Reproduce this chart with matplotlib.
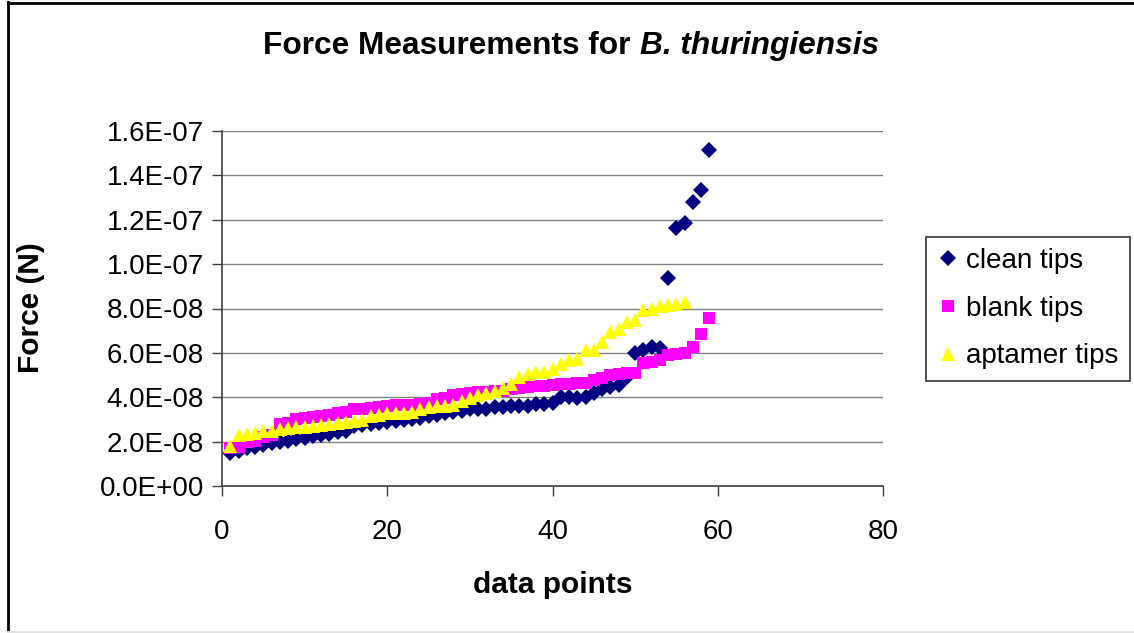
import matplotlib
matplotlib.use("Agg")
import matplotlib.pyplot as plt
from matplotlib.lines import Line2D
from matplotlib.ticker import FuncFormatter

plt.rcParams['font.family'] = ['Liberation Sans', 'DejaVu Sans']

# ---- data (Force in units of 1e-8 N) ----
clean_tips = [1.50, 1.60, 1.73, 1.75, 1.85, 1.92, 2.00, 2.05, 2.10, 2.15,
              2.25, 2.30, 2.35, 2.45, 2.50, 2.70, 2.75, 2.80, 2.85, 2.90,
              2.92, 2.98, 3.00, 3.05, 3.15, 3.20, 3.28, 3.35, 3.40, 3.45,
              3.47, 3.48, 3.55, 3.58, 3.60, 3.62, 3.62, 3.68, 3.70, 3.72,
              4.00, 4.02, 3.98, 4.02, 4.20, 4.35, 4.45, 4.55, 4.93, 5.98,
              6.13, 6.28, 6.21, 9.39, 11.61, 11.84, 12.81, 13.34, 15.14]
blank_tips = [1.73, 1.75, 2.00, 2.05, 2.20, 2.30, 2.80, 2.85, 3.00, 3.05,
              3.10, 3.15, 3.20, 3.30, 3.35, 3.45, 3.48, 3.50, 3.56, 3.62,
              3.65, 3.65, 3.67, 3.70, 3.72, 3.90, 3.97, 4.08, 4.15, 4.20,
              4.22, 4.25, 4.28, 4.30, 4.35, 4.40, 4.45, 4.50, 4.50, 4.55,
              4.60, 4.60, 4.63, 4.65, 4.80, 4.85, 5.00, 5.05, 5.08, 5.08,
              5.55, 5.60, 5.68, 5.90, 5.95, 6.00, 6.28, 6.84, 7.56]
aptamer_tips = [1.80, 2.30, 2.36, 2.40, 2.48, 2.50, 2.56, 2.60, 2.65, 2.65,
                2.70, 2.75, 2.78, 2.85, 2.87, 2.93, 2.98, 3.16, 3.20, 3.28,
                3.30, 3.30, 3.32, 3.46, 3.54, 3.60, 3.60, 3.65, 3.83, 3.95,
                4.10, 4.20, 4.30, 4.40, 4.60, 4.90, 5.05, 5.15, 5.15, 5.26,
                5.50, 5.70, 5.71, 6.13, 6.13, 6.50, 6.95, 7.06, 7.40, 7.48,
                7.93, 8.00, 8.10, 8.15, 8.20, 8.31]
series_names = ["clean tips", "blank tips", "aptamer tips"]
x_ticks = [0, 20, 40, 60, 80]
y_ticks = [i * 2e-8 for i in range(9)]
scale = 1e-8

W, H = 1134, 633
fig = plt.figure(figsize=(W / 100, H / 100), dpi=100)
fig.patch.set_facecolor('white')

ax = fig.add_axes([222 / W, 1 - 486 / H, (883 - 222) / W, (486 - 131) / H])

styles = [
    dict(marker='D', color='#000080', ms=8.0),
    dict(marker='s', color='#FF00FF', ms=8.8),
    dict(marker='^', color='#FFFF00', ms=10.0),
]
handles = []
for name, vals, st in zip(series_names, [clean_tips, blank_tips, aptamer_tips], styles):
    xs = list(range(1, len(vals) + 1))
    ys = [v * scale for v in vals]
    h, = ax.plot(xs, ys, linestyle='none', marker=st['marker'], color=st['color'],
                 markersize=st['ms'], markeredgewidth=0, label=name, clip_on=False)
    handles.append(h)

ax.set_xlim(0, 80)
ax.set_ylim(0, 1.6e-7)
ax.set_xticks(x_ticks)
ax.set_yticks(y_ticks)
ax.yaxis.set_major_formatter(FuncFormatter(lambda v, p: '{:.1E}'.format(v)))
ax.grid(axis='y', color='#808080', linewidth=1.0)
ax.set_axisbelow(True)
for s in ['top', 'right']:
    ax.spines[s].set_visible(False)
for s in ['left', 'bottom']:
    ax.spines[s].set_color('#404040')
    ax.spines[s].set_linewidth(1.2)
ax.tick_params(axis='both', direction='out', length=7, width=1.0, color='#404040',
               labelsize=20, labelcolor='black', pad=6)
ax.tick_params(axis='x', pad=17)

# axis labels
fig.text(31 / W, 1 - 308 / H, 'Force (N)', rotation=90, ha='center', va='center',
         fontsize=21.5, fontweight='bold')
fig.text(553 / W, 1 - 585 / H, 'data points', ha='center', va='center',
         fontsize=21.5, fontweight='bold')

# title with italic part
t1 = fig.text(0, 1 - 46 / H, 'Force Measurements for ', ha='left', va='center',
              fontsize=22.8, fontweight='bold')
t2 = fig.text(0, 1 - 46 / H, 'B. thuringiensis', ha='left', va='center',
              fontsize=22.8, fontweight='bold', fontstyle='italic')
fig.canvas.draw()
r = fig.canvas.get_renderer()
w1 = t1.get_window_extent(r).width
w2 = t2.get_window_extent(r).width
cx = 571
x0 = cx - (w1 + w2) / 2
t1.set_x(x0 / W)
t2.set_x((x0 + w1) / W)

leg = fig.legend(handles=handles, labels=series_names, loc='upper left',
                 bbox_to_anchor=(926 / W, 1 - 237 / H), fontsize=20,
                 frameon=True, fancybox=False, shadow=False, borderpad=0.4,
                 labelspacing=0.78, handletextpad=0.25, handlelength=0.8,
                 borderaxespad=0, markerscale=1.0)
leg.get_frame().set_edgecolor('black')
leg.get_frame().set_linewidth(1.2)

# outer chart border (left and top visible, bottom light)
fig.add_artist(Line2D([8 / W, 8 / W], [0, 1 - 2 / H], color='black', linewidth=2,
                      transform=fig.transFigure))
fig.add_artist(Line2D([8 / W, 1], [1 - 2.5 / H, 1 - 2.5 / H], color='black', linewidth=2,
                      transform=fig.transFigure))
fig.add_artist(Line2D([8 / W, 1], [1 - 632 / H, 1 - 632 / H], color='#e0e0e0', linewidth=1.5,
                      transform=fig.transFigure))

fig.savefig('out.png', dpi=100, facecolor='white')
